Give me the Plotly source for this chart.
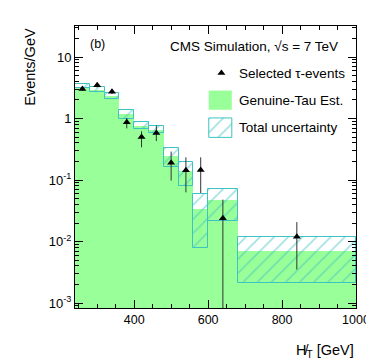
import plotly.graph_objects as go

# MHT bin edges [GeV]
bin_edges = [240, 280, 320, 360, 400, 440, 480, 520, 560, 600, 680, 1000]

# genuine-tau estimate (events/GeV) and its total uncertainty band
genuine_tau = [3.25, 2.96, 2.32, 1.18, 0.75, 0.66, 0.243, 0.138, 0.034, 0.048, 0.0070]
unc_up = [3.60, 3.25, 2.57, 1.36, 0.88, 0.755, 0.327, 0.196, 0.059, 0.072, 0.0117]
unc_lo = [3.10, 2.73, 2.05, 0.97, 0.68, 0.59, 0.163, 0.081, 0.0078, 0.0213, 0.0021]

# selected tau events
sel_x = [260, 300, 340, 380, 420, 460, 500, 540, 580, 640, 840]
sel_y = [3.02, 3.47, 2.73, 0.87, 0.50, 0.58, 0.19, 0.144, 0.146, 0.024, 0.012]
sel_hi = [3.25, 3.75, 2.95, 1.02, 0.62, 0.77, 0.29, 0.234, 0.234, 0.048, 0.0207]
sel_lo = [2.80, 3.20, 2.50, 0.69, 0.34, 0.43, 0.098, 0.063, 0.0615, 0.0, 0.0035]

y_tickvals = [1e-3, 1e-2, 1e-1, 1, 10]
y_ticktext = ['10<sup>-3</sup>', '10<sup>-2</sup>', '10<sup>-1</sup>', '1', '10']

GREEN = '#99ff99'
CYAN = '#3fc2c2'
FONT = 'Liberation Sans, Arial, sans-serif'

centers = [(a + b) / 2 for a, b in zip(bin_edges[:-1], bin_edges[1:])]
widths = [b - a for a, b in zip(bin_edges[:-1], bin_edges[1:])]

hatch = dict(shape='/', fgcolor=CYAN, bgcolor='rgba(0,0,0,0)', size=10,
             solidity=0.16, fillmode='overlay')

fig = go.Figure()

# green histogram
fig.add_trace(go.Bar(
    x=centers, y=genuine_tau, width=widths,
    marker=dict(color=GREEN, line=dict(width=0)),
    showlegend=False
))

# hatched uncertainty boxes
fig.add_trace(go.Bar(
    x=centers, y=[u - l for u, l in zip(unc_up, unc_lo)], base=unc_lo, width=widths,
    marker=dict(color='rgba(0,0,0,0)', line=dict(color=CYAN, width=1), pattern=hatch),
    showlegend=False
))

# data points
fig.add_trace(go.Scatter(
    x=sel_x, y=sel_y, mode='markers',
    marker=dict(symbol='triangle-up', size=7, color='black'),
    error_y=dict(type='data', symmetric=False,
                 array=[h - y for h, y in zip(sel_hi, sel_y)],
                 arrayminus=[y - l for y, l in zip(sel_y, sel_lo)],
                 color='#333333', thickness=1, width=0),
    showlegend=False
))

# legend swatches on an overlay axis spanning the plot area
fig.add_trace(go.Scatter(
    x=[0.521], y=[0.833], mode='markers', xaxis='x2', yaxis='y2',
    marker=dict(symbol='triangle-up', size=7, color='black'), showlegend=False
))
fig.add_trace(go.Scatter(
    x=[0.476, 0.558, 0.558, 0.476, 0.476], y=[0.703, 0.703, 0.771, 0.771, 0.703],
    xaxis='x2', yaxis='y2', mode='lines', fill='toself', fillcolor=GREEN,
    line=dict(width=0), showlegend=False
))
fig.add_trace(go.Scatter(
    x=[0.476, 0.558, 0.558, 0.476, 0.476], y=[0.605, 0.605, 0.674, 0.674, 0.605],
    xaxis='x2', yaxis='y2', mode='lines', fill='toself', fillcolor='rgba(0,0,0,0)',
    fillpattern=hatch, line=dict(color=CYAN, width=1), showlegend=False
))

legend_texts = [('Selected \u03c4-events', 0.833), ('Genuine-Tau Est.', 0.737), ('Total uncertainty', 0.640)]
for txt, yy in legend_texts:
    fig.add_annotation(x=0.575, y=yy, xref='x2', yref='y2', text=txt, showarrow=False,
                       xanchor='left', yanchor='middle', font=dict(size=13.5, color='black', family=FONT))

fig.add_annotation(x=0.942, y=0.926, xref='x2', yref='y2', text='CMS Simulation, \u221as = 7 TeV',
                   showarrow=False, xanchor='right', yanchor='middle',
                   font=dict(size=13.5, color='black', family=FONT))
fig.add_annotation(x=0.079, y=0.936, xref='x2', yref='y2', text='(b)', showarrow=False,
                   xanchor='center', yanchor='middle', font=dict(size=12.5, color='black', family=FONT))

# axis titles
fig.add_annotation(x=-0.161, y=1.0, xref='paper', yref='paper', text='Events/GeV', showarrow=False,
                   textangle=-90, xanchor='center', yanchor='top',
                   font=dict(size=14.5, color='black', family=FONT))
fig.add_annotation(x=1.0, y=-0.151, xref='paper', yref='paper', text='H\u0338<sub>T</sub> [GeV]',
                   showarrow=False, xanchor='right', yanchor='middle',
                   font=dict(size=14.5, color='black', family=FONT))

y_minor = [m * 10 ** e for e in range(-4, 2) for m in range(2, 10)]

fig.update_layout(
    width=374, height=363, autosize=False,
    margin=dict(l=67, r=15, t=18, b=63),
    paper_bgcolor='white', plot_bgcolor='white',
    barmode='overlay', bargap=0,
    font=dict(family=FONT, size=13, color='black'),
    xaxis=dict(range=[240, 1000], dtick=200, tick0=0, ticks='inside', ticklen=8,
               tickcolor='black', showline=True, linecolor='black', linewidth=1,
               mirror='allticks', showgrid=False, zeroline=False,
               tickfont=dict(size=12.5),
               minor=dict(dtick=50, tick0=0, ticks='inside', ticklen=4, tickcolor='black', showgrid=False)),
    yaxis=dict(type='log', range=[-3.081, 1.504], tickmode='array', tickvals=y_tickvals,
               ticktext=y_ticktext, ticks='inside', ticklen=8, tickcolor='black',
               showline=True, linecolor='black', linewidth=1, mirror='allticks',
               showgrid=False, zeroline=False, tickfont=dict(size=13),
               minor=dict(tickmode='array', tickvals=y_minor, ticks='inside', ticklen=4,
                          tickcolor='black', showgrid=False)),
    xaxis2=dict(range=[0, 1], overlaying='x', visible=False, fixedrange=True),
    yaxis2=dict(range=[0, 1], overlaying='y', visible=False, fixedrange=True),
)

fig.write_html('out.html')
